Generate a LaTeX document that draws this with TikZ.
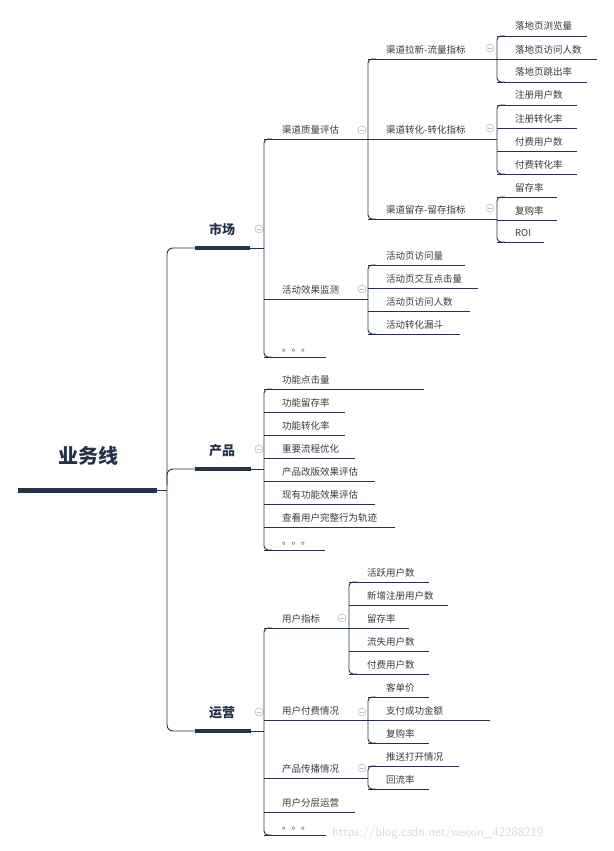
\documentclass[tikz,border=0pt]{standalone}
\usepackage{fontspec}
\setmainfont{Noto Sans CJK SC}
\usetikzlibrary{positioning}
\definecolor{navy}{HTML}{263248}
\definecolor{txt}{HTML}{3A3A3A}
\tikzset{
  link/.style={draw=navy, line width=0.9pt},
  item/.style={inner sep=0pt, anchor=base west, text=txt, font=\fontsize{9.5}{10}\selectfont},
  branch/.style={inner sep=0pt, anchor=base, text=navy, font=\fontsize{13}{14}\selectfont\bfseries},
  bar/.style={draw=navy, line width=4pt},
  fold/.style={draw=gray!55, line width=0.6pt}
}
% children of one bracket: x of bracket, top y, bottom y, list y/xend/text
\newcommand\kids[4]{%
  \draw[link, rounded corners=4pt] (#1+8,#2) -- (#1,#2) -- (#1,#3) -- (#1+8,#3);
  \foreach \yy/\xe/\tx in {#4} {
    \node[item] at (#1+18,\yy-6) {\tx};
    \draw[link] (#1,\yy) -- (\xe,\yy);
  }}
\newcommand\foldmark[2]{%
  \draw[fold] (#1,#2) circle (4pt);
  \draw[fold] (#1-2,#2) -- (#1+2,#2);}
\begin{document}
\begin{tikzpicture}[x=1pt, y=-1pt]
\useasboundingbox (0,0) rectangle (613,851);

% root
\node[inner sep=0pt, text=navy, font=\fontsize{20}{22}\selectfont\bfseries] (root) at (88,456) {业务线};
\draw[draw=navy, line width=5pt] (18,490) coordinate (rootL) -- (157,490) coordinate (rootR);
\draw[link] (rootR) -- (167,490);
\draw[link, rounded corners=6pt] (195,248) -- (167,248) -- (167,731) -- (195,731);
\draw[link, rounded corners=6pt] (167,485) -- (167,469) -- (195,469);

% 市场
\node[branch] (market) at (222,234) {市场};
\draw[bar] (195,248) -- (250,248);
\draw[link] (250,248) -- (264,248);
\foldmark{259}{229}
\kids{264}{139}{357}{139/368/渠道质量评估, 299/368/活动效果监测, 357/326/。。。}
\foldmark{362}{130}
\kids{368}{59}{219}{59/497/渠道拉新-流量指标, 139/497/渠道转化-转化指标, 219/497/渠道留存-留存指标}
\foldmark{490}{48}
\foldmark{490}{128}
\foldmark{490}{208}
\kids{497}{36}{82}{36/587/落地页浏览量, 59/597/落地页访问人数, 82/587/落地页跳出率}
\kids{497}{105}{174}{105/577/注册用户数, 128/577/注册转化率, 151/577/付费用户数, 174/577/付费转化率}
\kids{497}{197}{242}{197/557/留存率, 220/557/复购率, 242/544/ROI}
\foldmark{362}{289}
\kids{368}{265}{334}{265/465/活动页访问量, 288/478/活动页交互点击量, 311/470/活动页访问人数, 334/460/活动转化漏斗}

% 产品
\node[branch] (product) at (222,455) {产品};
\draw[bar] (195,469) -- (251,469);
\draw[link] (251,469) -- (264,469);
\foldmark{259}{449}
\kids{264}{389}{550}{389/424/功能点击量/使用率/使用频次, 412/345/功能留存率, 435/345/功能转化率, 458/355/重要流程优化, 481/375/产品改版效果评估, 504/375/现有功能效果评估, 527/395/查看用户完整行为轨迹, 550/325/。。。}

% 运营
\node[branch] (ops) at (222,717) {运营};
\draw[bar] (195,731) -- (251,731);
\draw[link] (251,731) -- (264,731);
\foldmark{259}{712}
\kids{264}{628}{835}{628/349/用户指标, 720/368/用户付费情况, 778/368/产品传播情况, 812/355/用户分层运营, 835/326/。。。}
\foldmark{342}{618}
\foldmark{362}{712}
\foldmark{362}{768}
\kids{349}{582}{674}{582/429/活跃用户数, 605/448/新增注册用户数, 628/409/留存率, 651/429/流失用户数, 674/429/付费用户数}
\kids{368}{697}{743}{697/429/客单价, 720/490/支付成功金额/用户数, 743/429/复购率}
\kids{368}{766}{789}{766/459/推送打开情况, 789/429/回流率}

\node[inner sep=0pt, text=gray!30, font=\fontsize{13}{14}\selectfont\sffamily, anchor=base west] (mark) at (332,836) {https://blog.csdn.net/weixin\_42288219};
\end{tikzpicture}
\end{document}
